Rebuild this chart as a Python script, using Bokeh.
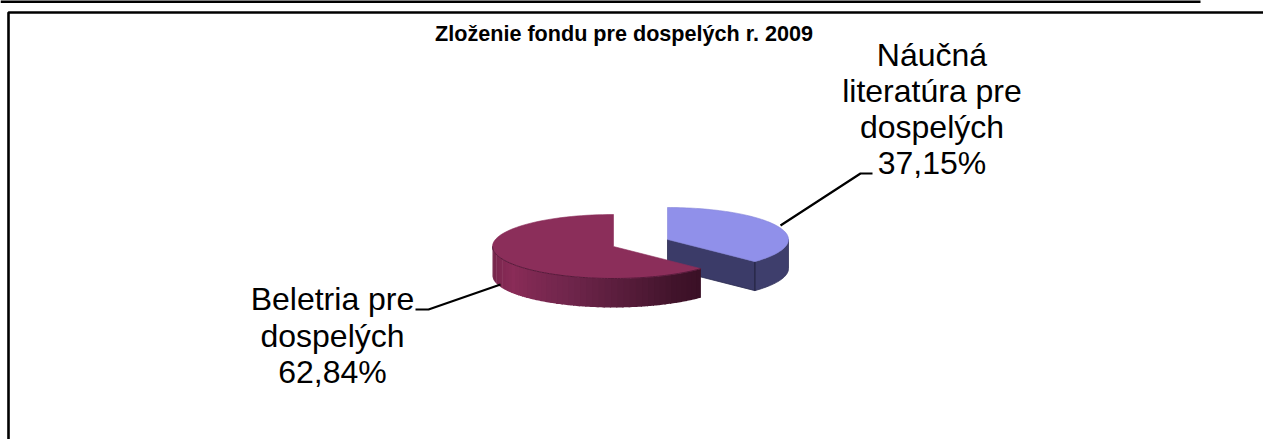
import numpy as np
from bokeh.plotting import figure
from bokeh.embed import file_html
from bokeh.resources import INLINE
from bokeh.core.properties import value

# data
title_text = "Zloženie fondu pre dospelých r. 2009"
categories = ["Náučná literatúra pre dospelých", "Beletria pre dospelých"]
shares = [37.15, 62.84]
label_lines_a = ["Náučná", "literatúra pre", "dospelých", "37,15%"]
label_lines_b = ["Beletria pre", "dospelých", "62,84%"]

W, H = 1263, 439
p = figure(width=W, height=H, x_range=(0, W), y_range=(H, 0), output_backend="svg",
           toolbar_location=None, min_border=0, outline_line_color=None,
           background_fill_color="white", border_fill_color="white")
p.axis.visible = False
p.grid.visible = False

# outer rules / chart frame
p.line([0, 1200], [1, 1], line_color="black", line_width=3)
p.line([8, 8, W], [H, 12, 12], line_color="black", line_width=2.6)

# pie geometry
A, B, DEPTH = 121, 32, 29
CUT = np.radians(shares[0] / sum(shares) * 360)


def rim(cx, cy, t0, t1, n=90):
    t = np.linspace(t0, t1, n)
    return cx + A * np.sin(t), cy - B * np.cos(t)


def mix(stops, f):
    pos = [s[0] for s in stops]
    r = np.interp(f, pos, [s[1][0] for s in stops])
    g = np.interp(f, pos, [s[1][1] for s in stops])
    b = np.interp(f, pos, [s[1][2] for s in stops])
    return "#%02x%02x%02x" % (int(r), int(g), int(b))


# blue slice
bx, by = 667, 239
# cut face
cx0, cy0 = rim(bx, by, CUT, CUT, 1)
p.patch([bx, cx0[0], cx0[0], bx], [by, cy0[0], cy0[0] + DEPTH, by + DEPTH],
        fill_color="#3b3b68", line_color="#2c2c50", line_width=0.8)
# outer side
sx, sy = rim(bx, by, np.pi / 2, CUT, 30)
p.patch(np.r_[sx, sx[::-1]], np.r_[sy, sy[::-1] + DEPTH],
        fill_color="#3e3e6c", line_color="#34345c", line_width=0.8)
p.line([cx0[0], cx0[0]], [cy0[0], cy0[0] + DEPTH], line_color="#22223f", line_width=1)
# top
tx, ty = rim(bx, by, 0, CUT)
p.patch(np.r_[bx, tx], np.r_[by, ty], fill_color="#9090ea", line_color="#8585d8", line_width=0.6)

# red slice
rx, ry = 613, 246
n_bands = 46
edges = np.linspace(CUT, 3 * np.pi / 2, n_bands + 1)
stops = [(0.0, (58, 16, 38)), (0.12, (66, 20, 44)), (0.5, (112, 38, 76)),
         (0.75, (138, 44, 88)), (1.0, (112, 36, 72))]
for i in range(n_bands):
    ex, ey = rim(rx, ry, edges[i], edges[i + 1] + 0.01, 5)
    col = mix(stops, (i + 0.5) / n_bands)
    p.patch(np.r_[ex, ex[::-1]], np.r_[ey, ey[::-1] + DEPTH], fill_color=col, line_color=None)
tx, ty = rim(rx, ry, CUT, 2 * np.pi)
p.patch(np.r_[rx, tx], np.r_[ry, ty], fill_color="#8b2e5a", line_color="#8b2e5a", line_width=0.6)
fx, fy = rim(rx, ry, CUT, 3 * np.pi / 2)
p.line(fx, fy, line_color="#561a3a", line_width=1)

# leader lines
p.line([780, 860, 872], [225, 173, 173], line_color="black", line_width=2.2)
p.line([500, 428, 415], [284, 309, 309], line_color="black", line_width=2.2)

FONT = value("Liberation Sans")
p.text([623.5], [43], text=[title_text], text_font=FONT, text_font_size="21.6px", text_font_style="bold",
       text_align="center", text_baseline="alphabetic", text_color="black", y_offset=-10)
p.text([931.5] * 4, [67, 103, 139, 175], text=label_lines_a, text_font=FONT, text_font_size="32px",
       text_align="center", text_baseline="alphabetic", text_color="black", y_offset=-13)
p.text([332] * 3, [310, 347, 383], text=label_lines_b, text_font=FONT, text_font_size="32px",
       text_align="center", text_baseline="alphabetic", text_color="black", y_offset=-12)

open("out.html", "w").write(file_html(p, INLINE))
